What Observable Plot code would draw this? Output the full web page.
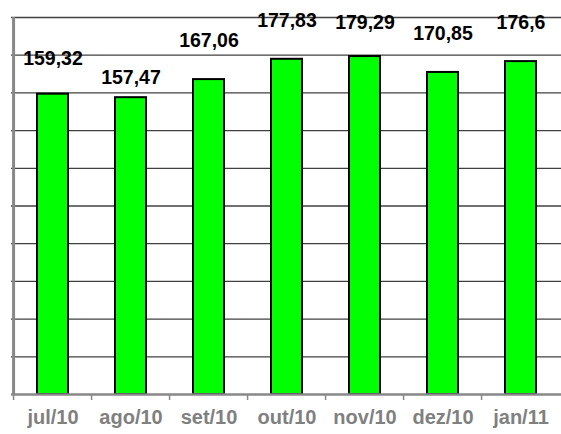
<!DOCTYPE html>
<html><head><meta charset="utf-8">
<script src="https://cdn.jsdelivr.net/npm/d3@7"></script>
<script src="https://cdn.jsdelivr.net/npm/@observablehq/plot@0.6"></script>
<style>body{margin:0;background:#fff}</style>
</head><body><div id="chart"></div>
<script>
const months = ["jul/10","ago/10","set/10","out/10","nov/10","dez/10","jan/11"];
const values = [159.32,157.47,167.06,177.83,179.29,170.85,176.6];
const labels = ["159,32","157,47","167,06","177,83","179,29","170,85","176,6"];
const labelLift = [18.7,10.4,20.7,20.6,18.0,20.6,20.7];
const gridTicks = [20,40,60,80,100,120,140,160,180,200];

const data = months.map((m,i)=>({month:m, value:values[i], label:labels[i], ly: values[i]+labelLift[i]}));
const W=561, H=434, padL=11, padR=563, padT=17, axisBottom=394;
const step = (padR-padL)/months.length;
const chart = Plot.plot({
  width: W, height: H, marginTop: padT, marginBottom: H-axisBottom, marginLeft: padL, marginRight: 0,
  style: {fontFamily: "'Liberation Sans', Arial, sans-serif", background: "#fff", overflow: "visible"},
  x: {domain: months, range: [padL, padR], paddingInner: 0.6, paddingOuter: 0.3, axis: null},
  y: {domain: [0, 200], axis: null},
  marks: [
    Plot.ruleY(gridTicks, {stroke: "#404040", strokeWidth: 1.3}),
    Plot.barY(data, {x: "month", y: "value", fill: "#00ff00", stroke: "#000", strokeWidth: 2}),
    Plot.ruleY([0], {stroke: "#888", strokeWidth: 2.5}),
    Plot.ruleX(months, {x: d=>d, dx: -step/2, y1: 0, y2: 0, insetBottom: -6, stroke: "#888", strokeWidth: 1.5}),
    Plot.ruleX([months[0]], {x: d=>d, dx: -step/2, y1: 0, y2: 200, stroke: "#888", strokeWidth: 3}),
    Plot.text(data, {x: "month", y: "ly", text: "label", fontSize: 19.5, fontWeight: "bold", fill: "#000"}),
    Plot.text(months, {x: d=>d, frameAnchor: "bottom", dy: 29, text: d=>d, fontSize: 20, fontWeight: "bold", fill: "#808080"})
  ]
});
document.getElementById("chart").appendChild(chart);
</script>
</body></html>
